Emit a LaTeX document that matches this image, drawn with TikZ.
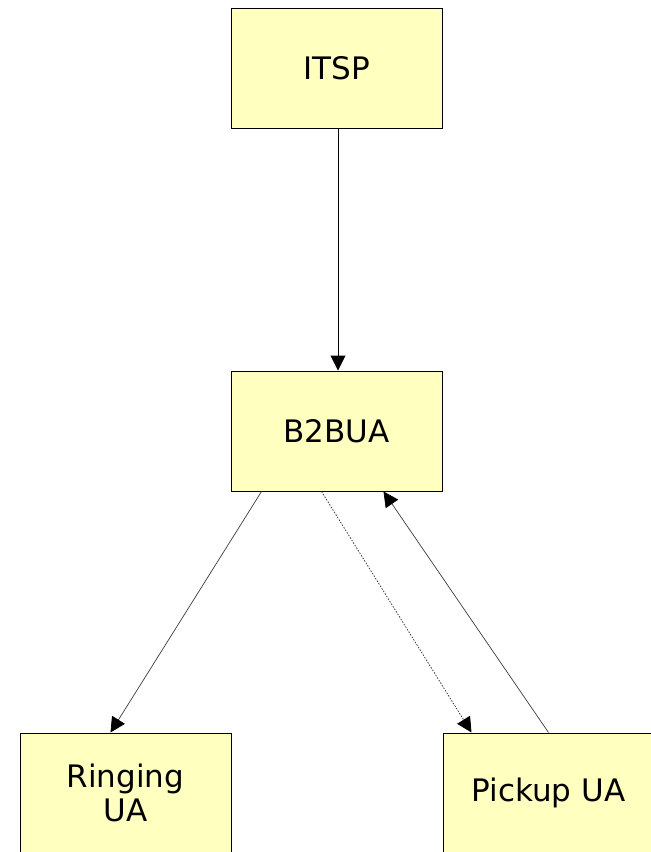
\documentclass[tikz,border=0pt]{standalone}
\usepackage{fontspec}
\setmainfont{DejaVu Sans}
\usetikzlibrary{arrows.meta,calc}
\definecolor{boxfill}{RGB}{255,255,192}
\definecolor{thinline}{RGB}{60,60,60}
\tikzset{
  entity/.style={draw=black, line width=1pt, fill=boxfill, minimum width=211pt,
    minimum height=120pt, inner sep=0pt, align=center,
    font=\fontsize{31}{34}\selectfont},
  head/.style={-{Triangle[length=15pt,width=15pt,color=black,fill=black]}},
  mainflow/.style={head, draw=black, line width=1pt},
  sideflow/.style={head, draw=thinline, line width=0.7pt},
  dotflow/.style={head, draw=thinline, line width=0.8pt, dash pattern=on 1.5pt off 1.5pt}
}
\begin{document}
\begin{tikzpicture}[x=1pt,y=-1pt]
  \useasboundingbox (0,0) rectangle (651,852);
  \node[entity] (itsp)    at (336.5,68)  {ITSP};
  \node[entity] (b2bua)   at (336.5,431) {B2BUA};
  \node[entity] (ringing) at (125.5,793) {Ringing\\UA};
  \node[entity] (pickup)  at (548.5,793) {Pickup UA};

  \draw[mainflow] ([xshift=1.5pt]itsp.south) -- ([xshift=1.5pt]b2bua.north);
  \draw[sideflow] ([xshift=31pt]b2bua.south west) -- ([xshift=91pt]ringing.north west);
  \draw[dotflow]  ([xshift=91pt]b2bua.south west) -- ([xshift=29pt]pickup.north west);
  \draw[sideflow] (pickup.north) -- ([xshift=153pt]b2bua.south west);
\end{tikzpicture}
\end{document}
